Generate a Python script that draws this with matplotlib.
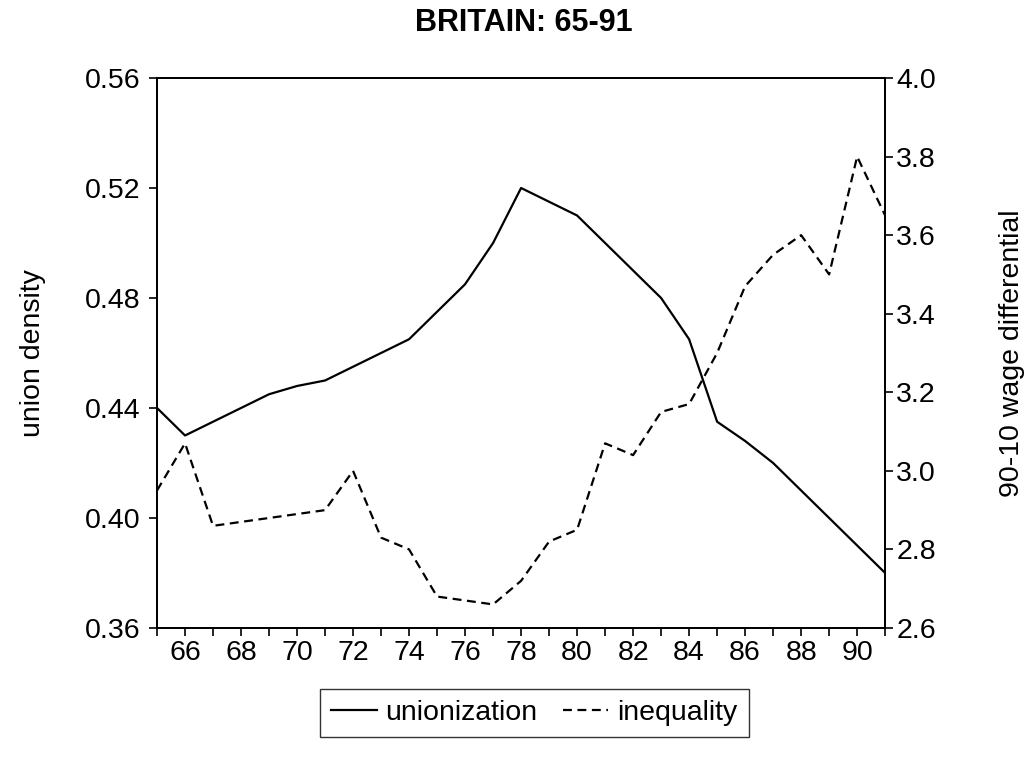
import matplotlib
matplotlib.use("Agg")
import matplotlib.pyplot as plt
from matplotlib.ticker import MultipleLocator, FuncFormatter

plt.rcParams['font.family'] = ['Liberation Sans', 'DejaVu Sans']

years = list(range(65, 92))
unionization = [0.440, 0.430, 0.435, 0.440, 0.445, 0.448, 0.450, 0.455, 0.460,
                0.465, 0.475, 0.485, 0.500, 0.520, 0.515, 0.510, 0.500, 0.490,
                0.480, 0.465, 0.435, 0.428, 0.420, 0.410, 0.400, 0.390, 0.380]
inequality = [2.95, 3.07, 2.86, 2.87, 2.88, 2.89, 2.90, 3.00, 2.83, 2.80, 2.68,
              2.67, 2.66, 2.72, 2.82, 2.85, 3.07, 3.04, 3.15, 3.17, 3.30, 3.47,
              3.55, 3.60, 3.50, 3.80, 3.65]

fig = plt.figure(figsize=(10.29, 7.61), dpi=100)
ax = fig.add_axes([0.1526, 0.1748, 0.7076, 0.7227])
ax2 = ax.twinx()

lw = 1.6
l1, = ax.plot(years, unionization, color='black', lw=lw, label='unionization')
l2, = ax2.plot(years, inequality, color='black', lw=lw, dashes=(4, 2.5),
               label='inequality')

ax.set_xlim(65, 91)
ax.set_ylim(0.36, 0.56)
ax2.set_ylim(2.6, 4.0)

ax.xaxis.set_minor_locator(MultipleLocator(1))
ax.set_xticks(range(66, 91, 2))
ax.xaxis.set_major_formatter(FuncFormatter(lambda v, p: f"{int(v)}"))
ax.yaxis.set_major_locator(MultipleLocator(0.04))
ax.yaxis.set_major_formatter(FuncFormatter(lambda v, p: f"{v:.2f}"))
ax2.yaxis.set_major_locator(MultipleLocator(0.2))
ax2.yaxis.set_major_formatter(FuncFormatter(lambda v, p: f"{v:.1f}"))

fs = 20.5
for a in (ax, ax2):
    a.tick_params(which='both', direction='out', length=6, width=1.2,
                  labelsize=fs, color='black', pad=6)
    for s in a.spines.values():
        s.set_linewidth(1.3)
ax.tick_params(axis='x', which='both', pad=3)
ax2.tick_params(axis='y', pad=2)

ax.set_ylabel('union density', fontsize=fs, labelpad=28)
ax2.set_ylabel('90-10 wage differential', fontsize=fs, labelpad=45)
fig.suptitle('BRITAIN: 65-91', fontsize=22, fontweight='bold', x=0.509, y=0.99,
             va='top')

leg = fig.legend([l1, l2], ['unionization', 'inequality'], loc='center',
                 bbox_to_anchor=(0.519, 0.063), ncol=2, fontsize=fs,
                 frameon=True, fancybox=False, edgecolor='black',
                 handlelength=1.6, handletextpad=0.3, columnspacing=0.9,
                 borderpad=0.4, borderaxespad=0)
leg.get_frame().set_linewidth(1.0)

fig.savefig('out.png', dpi=100, facecolor='white')
